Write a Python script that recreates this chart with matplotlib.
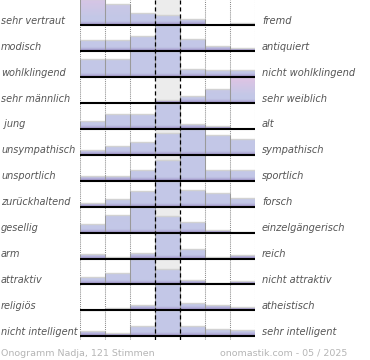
import numpy as np
import matplotlib
matplotlib.use("Agg")
import matplotlib.pyplot as plt
from matplotlib.patches import Rectangle
from matplotlib import transforms

left_labels = ["sehr vertraut", "modisch", "wohlklingend", "sehr männlich", " jung",
               "unsympathisch", "unsportlich", "zurückhaltend", "gesellig", "arm",
               "attraktiv", "religiös", "nicht intelligent"]
right_labels = ["fremd", "antiquiert", "nicht wohlklingend", "sehr weiblich", "alt",
                "sympathisch", "sportlich", "forsch", "einzelgängerisch", "reich",
                "nicht attraktiv", "atheistisch", "sehr intelligent"]

# relative frequencies of the 7 answer steps per row
row01 = [24, 19, 10.7, 9, 6, 0, 1.7]
row02 = [11, 11, 14.3, 25, 11.7, 5, 2.7]
row03 = [18, 18, 25.6, 25.6, 8, 6.7, 6.7]
row04 = [0, 0, 0, 3, 7, 13.7, 25.3]
row05 = [7.7, 14.7, 14.7, 25.9, 5, 2.5, 0]
row06 = [4.7, 9, 13, 21.3, 25.9, 20, 16]
row07 = [4.3, 4.3, 11, 21, 25.9, 11, 11]
row08 = [3.7, 7.7, 15.7, 25.9, 17, 13.7, 9]
row09 = [8.5, 17.4, 25.9, 16.7, 10.3, 2.7, 1]
row10 = [4.7, 1.7, 6, 25.9, 10, 2, 3.3]
row11 = [7.7, 11.7, 25.9, 15.7, 4.7, 1.3, 3.3]
row12 = [0.3, 2.3, 5.3, 25.9, 7.3, 5, 3.3]
row13 = [5, 3.3, 10.7, 25.9, 10.3, 7.7, 6.3]
rows = [row01, row02, row03, row04, row05, row06, row07, row08, row09, row10,
        row11, row12, row13]

footer_left = "Onogramm Nadja, 121 Stimmen"
footer_right = "onomastik.com - 05 / 2025"

W, H = 370, 360
fig = plt.figure(figsize=(W / 100, H / 100), dpi=100)
fig.patch.set_facecolor("white")
ax = fig.add_axes([80 / W, 1 - 340 / H, 175 / W, 340 / H])
ax.axis("off")

nrows = len(rows)
ncols = 7
xs = np.arange(ncols)

blue = np.array([0.765, 0.784, 0.906])
purple = np.array([0.60, 0.53, 0.76])
pink = np.array([0.865, 0.77, 0.895])


def gradient(share, col, n=80):
    t = np.linspace(0, 1, n)
    c = np.tile(blue, (n, 1))
    wpu = np.clip(1 - t / 0.16, 0, 1) ** 1.4
    c = c * (1 - wpu[:, None]) + purple * wpu[:, None]
    p = 0.0
    if col in (0, 1, 5, 6):
        p = float(np.clip((share - 0.2) / 0.2, 0, 1))
    wpk = p * np.clip((t - 0.3) / 0.6, 0, 1)
    c = c * (1 - wpk[:, None]) + pink * wpk[:, None]
    return c[:, None, :]


for i, vals in enumerate(rows):
    vals = np.asarray(vals, dtype=float)
    base = nrows - 1 - i
    h = vals / vals.max()
    share = vals / vals.sum()
    # gray band of the middle step
    ax.add_patch(Rectangle((3, base), 1, 1, facecolor="#ececec", edgecolor="none", zorder=0.5))
    bars = ax.bar(xs + 0.5, h, width=1, bottom=base, color=blue, edgecolor="none", zorder=2)
    for k, patch in enumerate(bars.patches):
        if h[k] <= 0:
            continue
        img = ax.imshow(gradient(share[k], k), extent=(k, k + 1, base, base + 1),
                        origin="lower", aspect="auto", zorder=2.1, interpolation="bilinear")
        img.set_clip_path(patch)
        ax.vlines([k, k + 1], base, base + h[k], colors="#9a9a9a", lw=0.75, zorder=2.5)
        ax.hlines(base + h[k], k, k + 1, colors="#d2d2d2", lw=1.0, zorder=2.4)
    ax.hlines(base, 0, ncols, colors="black", lw=1.5, zorder=3)

ylo, yhi = -0.139, 12.963
ax.vlines([0, 1, 2, 5, 6, 7], ylo, yhi, colors="#8a8a8a", lw=0.75,
          linestyles=[(0, (1, 1))], zorder=1)
ax.vlines([3, 4], ylo, yhi, colors="black", lw=0.9,
          linestyles=[(0, (3.3, 2.3))], zorder=4)
ax.set_xlim(0, ncols)
ax.set_ylim(ylo, yhi)

tr = transforms.blended_transform_factory(fig.transFigure, ax.transData)
for i in range(nrows):
    base = nrows - 1 - i
    fig.text(1 / W, base + 0.05, left_labels[i], transform=tr, ha="left", va="baseline",
             fontsize=7.0, style="italic", color="#555555", family="DejaVu Sans")
    fig.text(262 / W, base + 0.05, right_labels[i], transform=tr, ha="left", va="baseline",
             fontsize=7.1, style="italic", color="#555555", family="DejaVu Sans")

fig.text(1 / W, 1 - 355.5 / H, footer_left, ha="left", va="baseline", fontsize=6.8,
         color="#b5b5b5", family="DejaVu Sans")
fig.text(347 / W, 1 - 355.5 / H, footer_right, ha="right", va="baseline", fontsize=6.8,
         color="#b5b5b5", family="DejaVu Sans")

fig.savefig("out.png", dpi=100, facecolor="white")
